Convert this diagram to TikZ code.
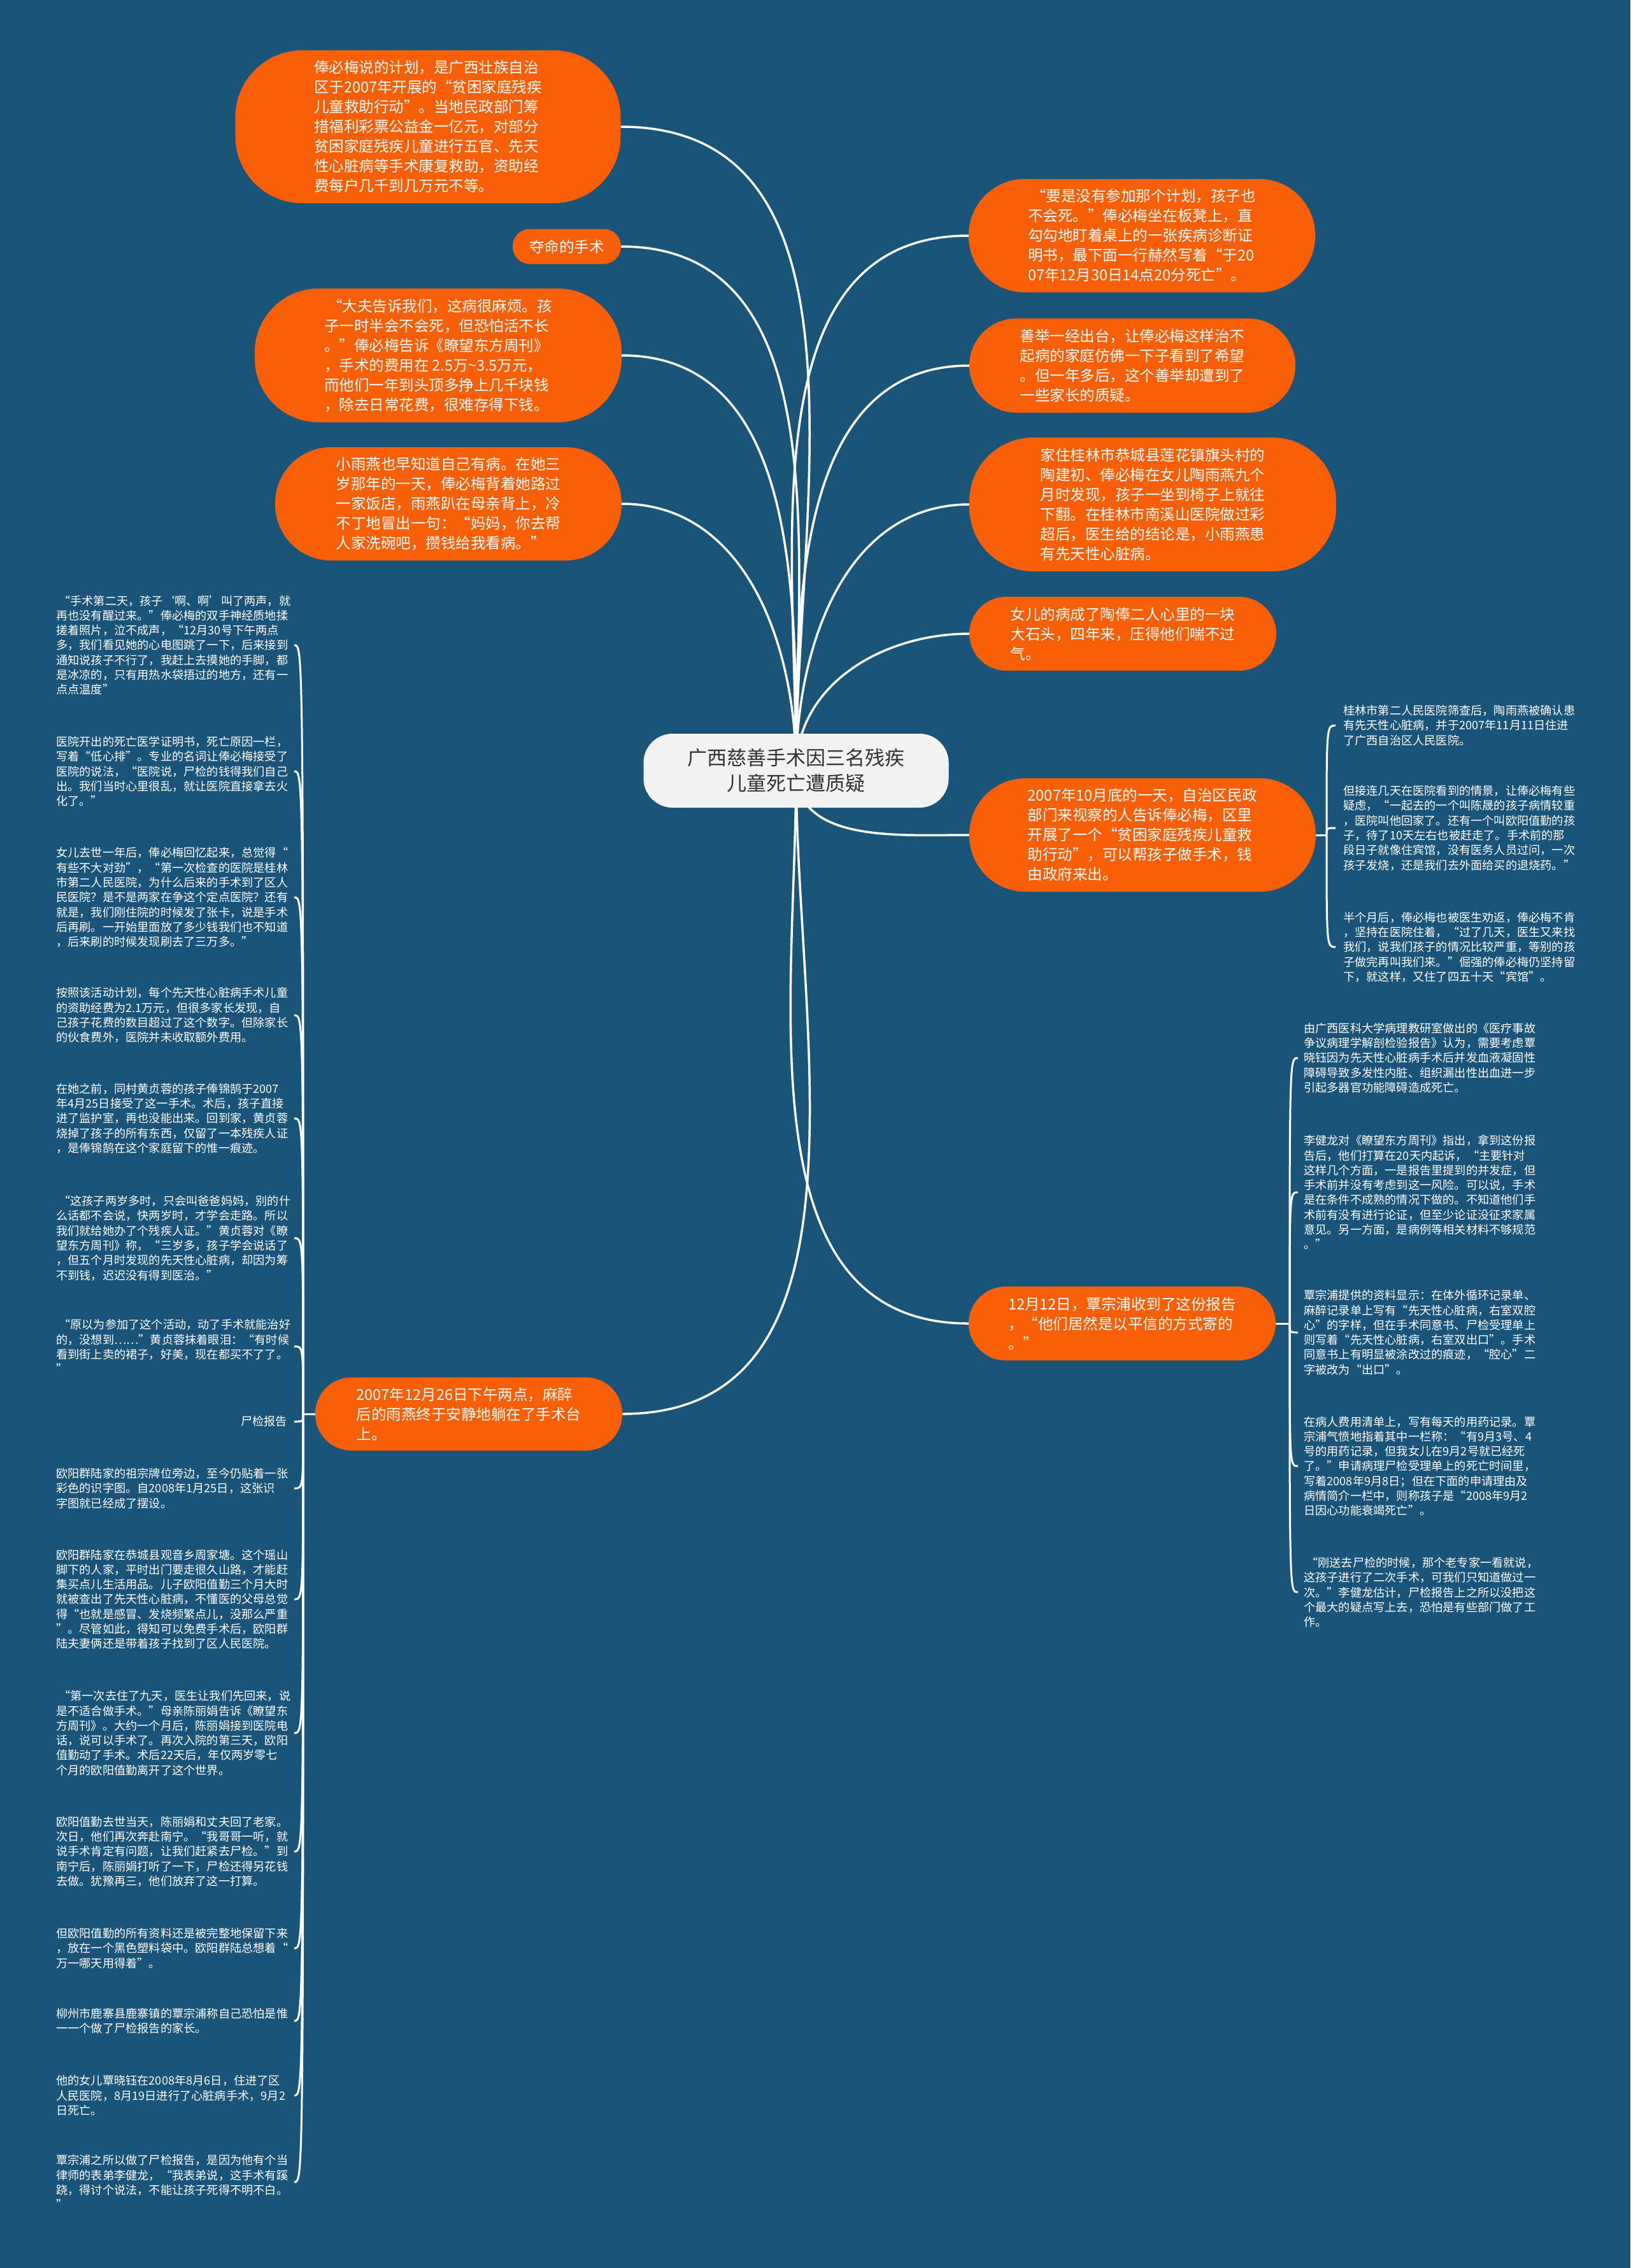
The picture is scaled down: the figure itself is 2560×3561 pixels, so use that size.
\documentclass[tikz,border=0pt]{standalone}
\usepackage{fontspec}
\newfontfamily\cjk{Noto Sans CJK SC}
\definecolor{bgblue}{HTML}{1B5479}
\definecolor{org}{HTML}{F95F07}
\definecolor{rootfill}{HTML}{F2F2F2}
\definecolor{roottext}{HTML}{333333}
\pgfdeclarelayer{back}
\pgfdeclarelayer{lines}
\pgfsetlayers{back,lines,main}
\tikzset{
  topic/.style={fill=org, text=white, align=left, inner sep=0pt,
    font=\cjk\fontsize{23.5}{31}\selectfont},
  rootnode/.style={fill=rootfill, draw=white, line width=1pt, text=roottext, align=center, inner sep=0pt,
    font=\cjk\fontsize{31}{40}\selectfont, minimum width=478pt, minimum height=115pt, rounded corners=45pt},
  leaf/.style={text=white, align=left, inner sep=0pt, anchor=west,
    font=\cjk\fontsize{18.2}{23.3}\selectfont},
  link/.style={draw=white, line width=3.5pt},
  brace/.style={draw=white, line width=3pt}
}
\begin{document}
\begin{tikzpicture}[x=1pt,y=-1pt]
\begin{pgfonlayer}{back}
\fill[bgblue] (0,0) rectangle (2560,3561);
\end{pgfonlayer}
\useasboundingbox (0,0) rectangle (2560,3561);

% root
\node[rootnode] (c) at (1250,1210) {广西慈善手术因三名残疾\\儿童死亡遭质疑};

% left topics
\node[topic, minimum width=605pt, minimum height=240pt, rounded corners=105pt] (l1) at (672,199) {俸必梅说的计划，是广西壮族自治\\区于2007年开展的“贫困家庭残疾\\儿童救助行动”。当地民政部门筹\\措福利彩票公益金一亿元，对部分\\贫困家庭残疾儿童进行五官、先天\\性心脏病等手术康复救助，资助经\\费每户几千到几万元不等。};
\node[topic, minimum width=170pt, minimum height=55pt, rounded corners=27pt] (l2) at (890,387) {夺命的手术};
\node[topic, minimum width=576pt, minimum height=210pt, rounded corners=100pt] (l3) at (688,558) {\ “大夫告诉我们，这病很麻烦。孩\\子一时半会不会死，但恐怕活不长\\。”俸必梅告诉《瞭望东方周刊》\\，手术的费用在 2.5万\textasciitilde3.5万元，\\而他们一年到头顶多挣上几千块钱\\，除去日常花费，很难存得下钱。};
\node[topic, minimum width=544pt, minimum height=178pt, rounded corners=88pt] (l4) at (704,791) {小雨燕也早知道自己有病。在她三\\岁那年的一天，俸必梅背着她路过\\一家饭店，雨燕趴在母亲背上，冷\\不丁地冒出一句：“妈妈，你去帮\\人家洗碗吧，攒钱给我看病。”};
\node[topic, minimum width=482pt, minimum height=115pt, rounded corners=57pt] (l5) at (736,2220) {2007年12月26日下午两点，麻醉\\后的雨燕终于安静地躺在了手术台\\上。};

% right topics
\node[topic, minimum width=544pt, minimum height=178pt, rounded corners=88pt] (r1) at (1793,370) {\ “要是没有参加那个计划，孩子也\\不会死。”俸必梅坐在板凳上，直\\勾勾地盯着桌上的一张疾病诊断证\\明书，最下面一行赫然写着“于20\\07年12月30日14点20分死亡”。};
\node[topic, minimum width=512pt, minimum height=148pt, rounded corners=74pt] (r2) at (1778,574) {善举一经出台，让俸必梅这样治不\\起病的家庭仿佛一下子看到了希望\\。但一年多后，这个善举却遭到了\\一些家长的质疑。};
\node[topic, minimum width=576pt, minimum height=210pt, rounded corners=100pt] (r3) at (1810,792) {家住桂林市恭城县莲花镇旗头村的\\陶建初、俸必梅在女儿陶雨燕九个\\月时发现，孩子一坐到椅子上就往\\下翻。在桂林市南溪山医院做过彩\\超后，医生给的结论是，小雨燕患\\有先天性心脏病。};
\node[topic, minimum width=482pt, minimum height=116pt, rounded corners=58pt] (r4) at (1763,995) {女儿的病成了陶俸二人心里的一块\\大石头，四年来，压得他们喘不过\\气。};
\node[topic, minimum width=544pt, minimum height=178pt, rounded corners=88pt] (r5) at (1794,1311) {2007年10月底的一天，自治区民政\\部门来视察的人告诉俸必梅，区里\\开展了一个“贫困家庭残疾儿童救\\助行动”，可以帮孩子做手术，钱\\由政府来出。};
\node[topic, minimum width=482pt, minimum height=116pt, rounded corners=58pt] (r6) at (1762,2078) {12月12日，覃宗浦收到了这份报告\\，“他们居然是以平信的方式寄的\\。”};

% brace junctions and tips
\coordinate (jl) at (476,2220);
\coordinate (ltip) at (462,0);
\coordinate (jr5) at (2083,1311);
\coordinate (r5tip) at (2097,0);
\coordinate (jr6) at (2025,2078);
\coordinate (r6tip) at (2038,0);

% left leaves
\node[leaf] (b1) at (88,1013) {\ “手术第二天，孩子‘啊、啊’叫了两声，就\\再也没有醒过来。”俸必梅的双手神经质地揉\\搓着照片，泣不成声，“12月30号下午两点\\多，我们看见她的心电图跳了一下，后来接到\\通知说孩子不行了，我赶上去摸她的手脚，都\\是冰凉的，只有用热水袋捂过的地方，还有一\\点点温度”};
\node[leaf] (b2) at (88,1211) {医院开出的死亡医学证明书，死亡原因一栏，\\写着“低心排”。专业的名词让俸必梅接受了\\医院的说法，“医院说，尸检的钱得我们自己\\出。我们当时心里很乱，就让医院直接拿去火\\化了。”};
\node[leaf] (b3) at (88,1409) {女儿去世一年后，俸必梅回忆起来，总觉得“\\有些不大对劲”，“第一次检查的医院是桂林\\市第二人民医院，为什么后来的手术到了区人\\民医院？是不是两家在争这个定点医院？还有\\就是，我们刚住院的时候发了张卡，说是手术\\后再刷。一开始里面放了多少钱我们也不知道\\，后来刷的时候发现刷去了三万多。”};
\node[leaf] (b4) at (88,1594) {按照该活动计划，每个先天性心脏病手术儿童\\的资助经费为2.1万元，但很多家长发现，自\\己孩子花费的数目超过了这个数字。但除家长\\的伙食费外，医院并未收取额外费用。};
\node[leaf] (b5) at (88,1756) {在她之前，同村黄贞蓉的孩子俸锦鹄于2007\\年4月25日接受了这一手术。术后，孩子直接\\进了监护室，再也没能出来。回到家，黄贞蓉\\烧掉了孩子的所有东西，仅留了一本残疾人证\\，是俸锦鹄在这个家庭留下的惟一痕迹。};
\node[leaf] (b6) at (88,1944) {\ “这孩子两岁多时，只会叫爸爸妈妈，别的什\\么话都不会说，快两岁时，才学会走路。所以\\我们就给她办了个残疾人证。”黄贞蓉对《瞭\\望东方周刊》称，“三岁多，孩子学会说话了\\，但五个月时发现的先天性心脏病，却因为筹\\不到钱，迟迟没有得到医治。”};
\node[leaf] (b7) at (88,2114) {\ “原以为参加了这个活动，动了手术就能治好\\的，没想到……”黄贞蓉抹着眼泪：“有时候\\看到街上卖的裙子，好美，现在都买不了了。\\”};
\node[leaf, anchor=east] (b8) at (451,2232) {尸检报告};
\node[leaf] (b9) at (88,2337) {欧阳群陆家的祖宗牌位旁边，至今仍贴着一张\\彩色的识字图。自2008年1月25日，这张识\\字图就已经成了摆设。};
\node[leaf] (b10) at (88,2511) {欧阳群陆家在恭城县观音乡周家塘。这个瑶山\\脚下的人家，平时出门要走很久山路，才能赶\\集买点儿生活用品。儿子欧阳值勤三个月大时\\就被查出了先天性心脏病，不懂医的父母总觉\\得“也就是感冒、发烧频繁点儿，没那么严重\\”。尽管如此，得知可以免费手术后，欧阳群\\陆夫妻俩还是带着孩子找到了区人民医院。};
\node[leaf] (b11) at (88,2721) {\ “第一次去住了九天，医生让我们先回来，说\\是不适合做手术。”母亲陈丽娟告诉《瞭望东\\方周刊》。大约一个月后，陈丽娟接到医院电\\话，说可以手术了。再次入院的第三天，欧阳\\值勤动了手术。术后22天后，年仅两岁零七\\个月的欧阳值勤离开了这个世界。};
\node[leaf] (b12) at (88,2907) {欧阳值勤去世当天，陈丽娟和丈夫回了老家。\\次日，他们再次奔赴南宁。“我哥哥一听，就\\说手术肯定有问题，让我们赶紧去尸检。”到\\南宁后，陈丽娟打听了一下，尸检还得另花钱\\去做。犹豫再三，他们放弃了这一打算。};
\node[leaf] (b13) at (88,3059) {但欧阳值勤的所有资料还是被完整地保留下来\\，放在一个黑色塑料袋中。欧阳群陆总想着“\\万一哪天用得着”。};
\node[leaf] (b14) at (88,3173) {柳州市鹿寨县鹿寨镇的覃宗浦称自己恐怕是惟\\一一个做了尸检报告的家长。};
\node[leaf] (b15) at (88,3290) {他的女儿覃晓钰在2008年8月6日，住进了区\\人民医院，8月19日进行了心脏病手术，9月2\\日死亡。};
\node[leaf] (b16) at (88,3426) {覃宗浦之所以做了尸检报告，是因为他有个当\\律师的表弟李健龙，“我表弟说，这手术有蹊\\跷，得讨个说法，不能让孩子死得不明不白。\\”};

% right leaves of r5
\node[leaf] (a1) at (2109,1139) {桂林市第二人民医院筛查后，陶雨燕被确认患\\有先天性心脏病，并于2007年11月11日住进\\了广西自治区人民医院。};
\node[leaf] (a2) at (2109,1300) {但接连几天在医院看到的情景，让俸必梅有些\\疑虑，“一起去的一个叫陈晟的孩子病情较重\\，医院叫他回家了。还有一个叫欧阳值勤的孩\\子，待了10天左右也被赶走了。手术前的那\\段日子就像住宾馆，没有医务人员过问，一次\\孩子发烧，还是我们去外面给买的退烧药。”};
\node[leaf] (a3) at (2109,1487) {半个月后，俸必梅也被医生劝返，俸必梅不肯\\，坚持在医院住着，“过了几天，医生又来找\\我们，说我们孩子的情况比较严重，等别的孩\\子做完再叫我们来。”倔强的俸必梅仍坚持留\\下，就这样，又住了四五十天“宾馆”。};

% right leaves of r6
\node[leaf] (d1) at (2047,1661) {由广西医科大学病理教研室做出的《医疗事故\\争议病理学解剖检验报告》认为，需要考虑覃\\晓钰因为先天性心脏病手术后并发血液凝固性\\障碍导致多发性内脏、组织漏出性出血进一步\\引起多器官功能障碍造成死亡。};
\node[leaf] (d2) at (2047,1872) {李健龙对《瞭望东方周刊》指出，拿到这份报\\告后，他们打算在20天内起诉，“主要针对\\这样几个方面，一是报告里提到的并发症，但\\手术前并没有考虑到这一风险。可以说，手术\\是在条件不成熟的情况下做的。不知道他们手\\术前有没有进行论证，但至少论证没征求家属\\意见。另一方面，是病例等相关材料不够规范\\。”};
\node[leaf] (d3) at (2047,2092) {覃宗浦提供的资料显示：在体外循环记录单、\\麻醉记录单上写有“先天性心脏病，右室双腔\\心”的字样，但在手术同意书、尸检受理单上\\则写着“先天性心脏病，右室双出口”。手术\\同意书上有明显被涂改过的痕迹，“腔心”二\\字被改为“出口”。};
\node[leaf] (d4) at (2047,2302) {在病人费用清单上，写有每天的用药记录。覃\\宗浦气愤地指着其中一栏称：“有9月3号、4\\号的用药记录，但我女儿在9月2号就已经死\\了。”申请病理尸检受理单上的死亡时间里，\\写着2008年9月8日；但在下面的申请理由及\\病情简介一栏中，则称孩子是“2008年9月2\\日因心功能衰竭死亡”。};
\node[leaf] (d5) at (2047,2500) {\ “刚送去尸检的时候，那个老专家一看就说，\\这孩子进行了二次手术，可我们只知道做过一\\次。”李健龙估计，尸检报告上之所以没把这\\个最大的疑点写上去，恐怕是有些部门做了工\\作。};

\begin{pgfonlayer}{lines}
% main connectors
\draw[link] (c.center) to[out=90,in=0] (l1.east);
\draw[link] (c.center) to[out=90,in=0] (l2.east);
\draw[link] (c.center) to[out=90,in=0] (l3.east);
\draw[link] (c.center) to[out=90,in=0] (l4.east);
\draw[link] (c.center) to[out=-90,in=0] (l5.east);
\draw[link] (c.center) to[out=90,in=180] (r1.west);
\draw[link] (c.center) to[out=90,in=180] (r2.west);
\draw[link] (c.center) to[out=90,in=180] (r3.west);
\draw[link] (c.center) to[out=90,in=180] (r4.west);
\draw[link] (c.center) to[out=-90,in=180] (r5.west);
\draw[link] (c.center) to[out=-90,in=180] (r6.west);
% left brace
\draw[brace] (l5.west) -- (jl);
\foreach \n in {b1,b2,b3,b4,b5,b6,b7,b8,b9,b10,b11,b12,b13,b14,b15,b16}
  \draw[brace] (jl) .. controls (jl |- \n) .. (ltip |- \n);
% r5 brace
\draw[brace] (r5.east) -- (jr5);
\foreach \n in {a1,a2,a3}
  \draw[brace] (jr5) .. controls (jr5 |- \n) .. (r5tip |- \n);
% r6 brace
\draw[brace] (r6.east) -- (jr6);
\foreach \n in {d1,d2,d3,d4,d5}
  \draw[brace] (jr6) .. controls (jr6 |- \n) .. (r6tip |- \n);
\end{pgfonlayer}
\end{tikzpicture}
\end{document}
